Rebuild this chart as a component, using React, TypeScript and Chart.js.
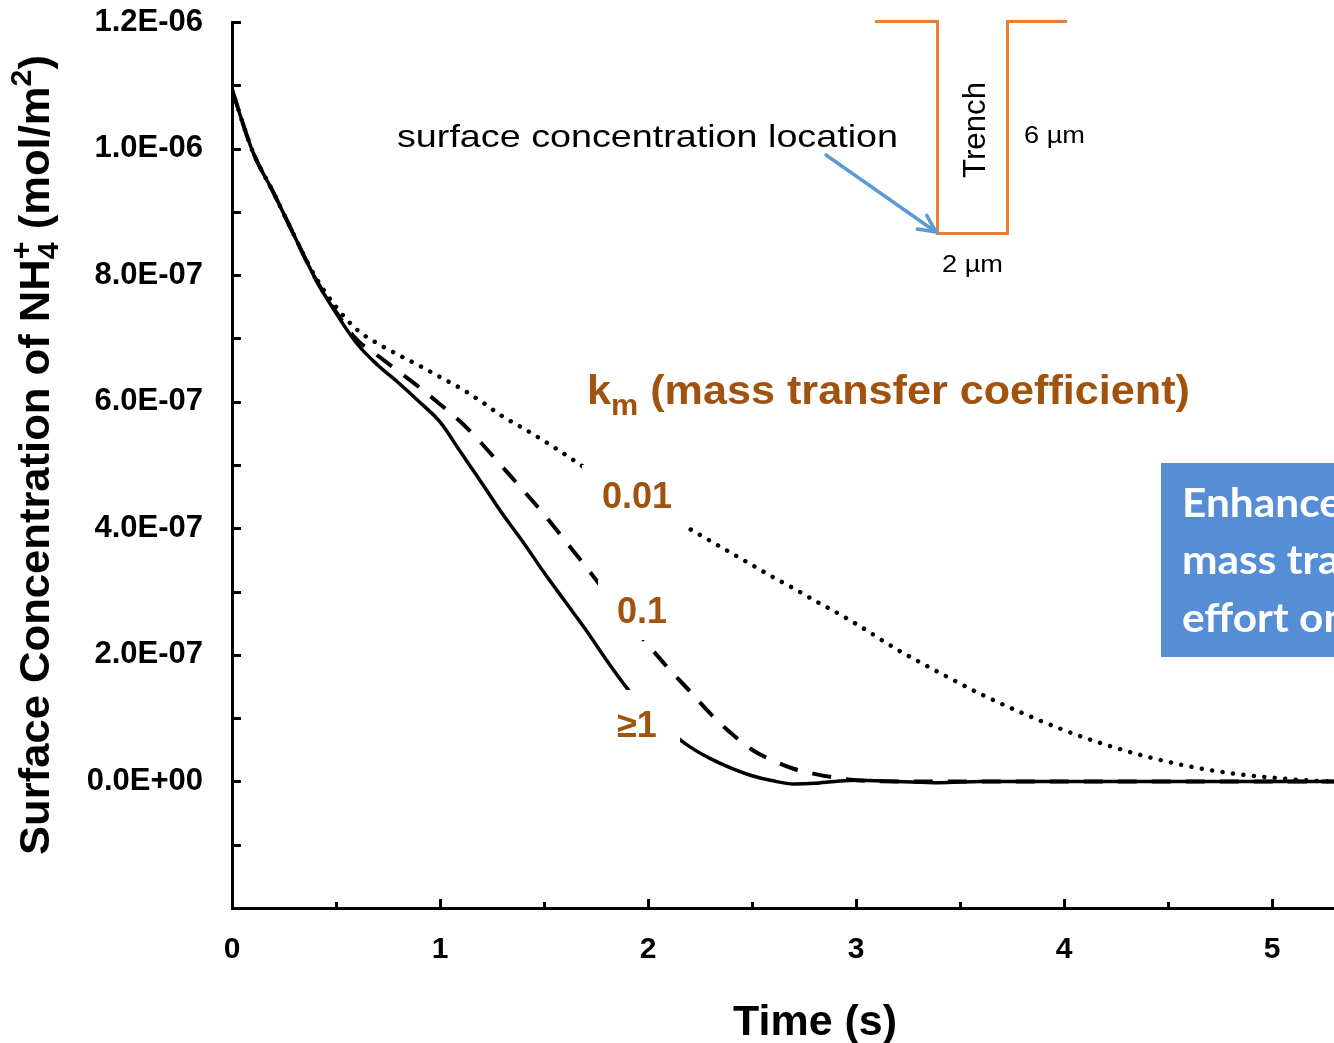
import React, { useEffect, useRef } from 'react';
import { Chart, registerables } from 'chart.js';

Chart.register(...registerables);

// ---------------- data ----------------
// time (s)
const TIME = [
  0, 0.1, 0.2, 0.3, 0.4, 0.5, 0.6, 0.7, 0.8, 0.9,
  1.0, 1.1, 1.2, 1.3, 1.4, 1.5, 1.6, 1.7, 1.8, 1.9,
  2.0, 2.1, 2.2, 2.3, 2.4, 2.5, 2.6, 2.7, 2.8, 2.9,
  3.0, 3.2, 3.4, 3.6, 3.8, 4.0, 4.2, 4.4, 4.6, 4.8,
  5.0, 5.2, 5.3,
];
// surface concentration (mol/m2), km >= 1 (solid)
const KM_GE1 = [
  10.93e-7, 9.95e-7, 9.3e-7, 8.62e-7, 7.95e-7, 7.4e-7, 6.92e-7, 6.58e-7, 6.3e-7, 6.0e-7,
  5.68e-7, 5.2e-7, 4.72e-7, 4.23e-7, 3.78e-7, 3.3e-7, 2.85e-7, 2.4e-7, 1.92e-7, 1.47e-7,
  1.08e-7, 0.8e-7, 0.55e-7, 0.36e-7, 0.21e-7, 0.09e-7, 0.01e-7, -0.04e-7, -0.03e-7, 0.0,
  0.02e-7, 0.0, -0.02e-7, 0, 0, 0, 0, 0, 0, 0,
  0, 0, 0,
];
// km = 0.1 (dashed)
const KM_01 = [
  10.93e-7, 9.95e-7, 9.3e-7, 8.62e-7, 7.95e-7, 7.42e-7, 6.98e-7, 6.73e-7, 6.48e-7, 6.23e-7,
  5.96e-7, 5.68e-7, 5.34e-7, 4.97e-7, 4.6e-7, 4.22e-7, 3.81e-7, 3.4e-7, 2.97e-7, 2.55e-7,
  2.16e-7, 1.78e-7, 1.43e-7, 1.07e-7, 0.76e-7, 0.5e-7, 0.33e-7, 0.2e-7, 0.12e-7, 0.06e-7,
  0.02e-7, 0, 0, 0, 0, 0, 0, 0, 0, 0,
  0, 0, 0,
];
// km = 0.01 (dotted)
const KM_001 = [
  10.93e-7, 9.95e-7, 9.3e-7, 8.62e-7, 7.98e-7, 7.5e-7, 7.14e-7, 6.92e-7, 6.74e-7, 6.57e-7,
  6.39e-7, 6.21e-7, 6.0e-7, 5.77e-7, 5.58e-7, 5.38e-7, 5.17e-7, 4.95e-7, 4.75e-7, 4.55e-7,
  4.36e-7, 4.17e-7, 3.99e-7, 3.8e-7, 3.61e-7, 3.42e-7, 3.23e-7, 3.05e-7, 2.86e-7, 2.68e-7,
  2.49e-7, 2.08e-7, 1.72e-7, 1.38e-7, 1.08e-7, 0.81e-7, 0.58e-7, 0.39e-7, 0.24e-7, 0.13e-7,
  0.06e-7, 0.01e-7, 0.0,
];

const X_TICK_VALUES = [0, 0.5, 1, 1.5, 2, 2.5, 3, 3.5, 4, 4.5, 5];
const X_TICK_LABELS = ['0', '1', '2', '3', '4', '5'];
const Y_TICK_STEPS = [0, 2, 4, 6, 8, 10, 12]; // in units of 1e-7
const Y_TICK_LABELS = ['0.0E+00', '2.0E-07', '4.0E-07', '6.0E-07', '8.0E-07', '1.0E-06', '1.2E-06'];

const KM_TEXTS = ['0.01', '0.1', '\u22651'];

// ---------------- layout / style ----------------
const W = 1334;
const H = 1043;
const X_MIN = 0;
const X_MAX = 5.298;
const Y_MIN = -2e-7;
const Y_MAX = 1.2e-6;
const SANS = '"Liberation Sans", Arial, Helvetica, sans-serif';
const BROWN = '#A0520F';
const ORANGE = '#ED7D31';
const BLUE_ARROW = '#5B9BD5';
const BLUE_BOX = '#558ED5';

type Seg = { t: string; size: number; dy?: number; noAdv?: boolean };

function drawRich(
  ctx: CanvasRenderingContext2D,
  segs: Seg[],
  weight: string,
  family: string,
  color: string,
  x: number,
  y: number,
  align: 'left' | 'center',
  width?: number,
  rotate?: number
) {
  ctx.save();
  ctx.translate(x, y);
  if (rotate) ctx.rotate(rotate);
  const widths = segs.map((s) => {
    ctx.font = `${weight} ${s.size}px ${family}`;
    return ctx.measureText(s.t).width;
  });
  let total = 0;
  segs.forEach((s, i) => {
    if (!s.noAdv) total += widths[i];
  });
  const sx = width ? width / total : 1;
  ctx.scale(sx, 1);
  ctx.fillStyle = color;
  ctx.textAlign = 'left';
  ctx.textBaseline = 'alphabetic';
  let cx = align === 'center' ? -total / 2 : 0;
  segs.forEach((s, i) => {
    ctx.font = `${weight} ${s.size}px ${family}`;
    ctx.fillText(s.t, cx, s.dy || 0);
    if (!s.noAdv) cx += widths[i];
  });
  ctx.restore();
}

const decorPlugin = {
  id: 'decor',
  afterDraw(chart: any) {
    const ctx: CanvasRenderingContext2D = chart.ctx;
    const ca = chart.chartArea;
    const xs = chart.scales.x;
    const ys = chart.scales.y;

    // inward tick marks
    ctx.save();
    ctx.strokeStyle = '#000';
    ctx.lineWidth = 3;
    ys.ticks.forEach((t: any) => {
      const py = Math.round(ys.getPixelForValue(t.value)) + 0.5;
      ctx.beginPath();
      ctx.moveTo(ca.left, py);
      ctx.lineTo(ca.left + 9, py);
      ctx.stroke();
    });
    xs.ticks.forEach((t: any) => {
      if (Math.abs(t.value) < 1e-6) return;
      const px = Math.round(xs.getPixelForValue(t.value)) + 0.5;
      const major = Math.abs(t.value - Math.round(t.value)) < 1e-6;
      ctx.beginPath();
      ctx.moveTo(px, ca.bottom);
      ctx.lineTo(px, ca.bottom - (major ? 9 : 6));
      ctx.stroke();
    });
    ctx.restore();

    // km value labels with white boxes
    const boxes = [
      { cx: 637, base: 508, box: [582, 465, 110, 62] },
      { cx: 642, base: 623, box: [598, 580, 88, 60] },
      { cx: 637, base: 737, box: [594, 690, 86, 66] },
    ];
    boxes.forEach((b, i) => {
      ctx.fillStyle = '#fff';
      ctx.fillRect(b.box[0], b.box[1], b.box[2], b.box[3]);
      drawRich(ctx, [{ t: KM_TEXTS[i], size: 36 }], 'bold', SANS, BROWN, b.cx, b.base, 'center');
    });

    // km title
    drawRich(
      ctx,
      [
        { t: 'k', size: 41 },
        { t: 'm', size: 29, dy: 11 },
        { t: ' (mass transfer coefficient)', size: 41 },
      ],
      'bold',
      SANS,
      BROWN,
      587,
      404,
      'left',
      603
    );

    // trench inset
    ctx.save();
    ctx.strokeStyle = ORANGE;
    ctx.lineWidth = 3;
    ctx.lineJoin = 'miter';
    ctx.beginPath();
    ctx.moveTo(875, 21.5);
    ctx.lineTo(937.5, 21.5);
    ctx.lineTo(937.5, 233.5);
    ctx.lineTo(1007.5, 233.5);
    ctx.lineTo(1007.5, 21.5);
    ctx.lineTo(1067, 21.5);
    ctx.stroke();
    ctx.restore();

    // arrow
    ctx.save();
    ctx.strokeStyle = BLUE_ARROW;
    ctx.lineWidth = 3.5;
    ctx.lineCap = 'round';
    const ax0 = 826, ay0 = 155, ax1 = 936, ay1 = 232;
    ctx.beginPath();
    ctx.moveTo(ax0, ay0);
    ctx.lineTo(ax1, ay1);
    const ang = Math.atan2(ay1 - ay0, ax1 - ax0);
    const hl = 19;
    ctx.moveTo(ax1 - hl * Math.cos(ang - 0.45), ay1 - hl * Math.sin(ang - 0.45));
    ctx.lineTo(ax1, ay1);
    ctx.lineTo(ax1 - hl * Math.cos(ang + 0.45), ay1 - hl * Math.sin(ang + 0.45));
    ctx.stroke();
    ctx.restore();

    drawRich(ctx, [{ t: 'surface concentration location', size: 32 }], 'normal', SANS, '#000', 397, 147, 'left', 501);
    drawRich(ctx, [{ t: 'Trench', size: 31 }], 'normal', SANS, '#000', 985, 130, 'center', 96, -Math.PI / 2);
    drawRich(ctx, [{ t: '6 \u00b5m', size: 24 }], 'normal', SANS, '#000', 1024, 143, 'left', 61);
    drawRich(ctx, [{ t: '2 \u00b5m', size: 24 }], 'normal', SANS, '#000', 942, 272, 'left', 61);

    // blue note box (cut by the right edge)
    ctx.save();
    ctx.fillStyle = BLUE_BOX;
    ctx.fillRect(1161, 463, 260, 194);
    ctx.font = 'bold 40px Lato, "Open Sans", sans-serif';
    const ew = ctx.measureText('Enhance').width;
    const bsx = 160 / ew;
    ctx.restore();
    const noteLines = ['Enhanced', 'mass transfer', 'effort on'];
    const noteBase = [517, 574, 632];
    noteLines.forEach((l, i) => {
      ctx.save();
      ctx.translate(1182, noteBase[i]);
      ctx.scale(bsx, 1);
      ctx.font = 'bold 40px Lato, "Open Sans", sans-serif';
      ctx.fillStyle = '#fff';
      ctx.textAlign = 'left';
      ctx.textBaseline = 'alphabetic';
      ctx.fillText(l, 0, 0);
      ctx.restore();
    });

    // axis titles
    drawRich(
      ctx,
      [
        { t: 'Surface Concentration of NH', size: 43 },
        { t: '4', size: 30, dy: 9, noAdv: true },
        { t: '+', size: 30, dy: -18 },
        { t: ' (mol/m', size: 43 },
        { t: '2', size: 30, dy: -18 },
        { t: ')', size: 43 },
      ],
      'bold',
      SANS,
      '#000',
      49,
      455,
      'center',
      800,
      -Math.PI / 2
    );
    drawRich(ctx, [{ t: 'Time (s)', size: 43 }], 'bold', SANS, '#000', 815, 1035, 'center', 164);
  },
};

export default function App() {
  const ref = useRef<HTMLCanvasElement>(null);

  useEffect(() => {
    const canvas = ref.current;
    if (!canvas) return;
    const mk = (arr: number[]) => TIME.map((t, i) => ({ x: t, y: arr[i] }));
    const chart = new Chart(canvas, {
      type: 'line',
      data: {
        datasets: [
          {
            label: 'km \u2265 1',
            data: mk(KM_GE1),
            borderColor: '#000',
            borderWidth: 3.5,
            pointRadius: 0,
            fill: false,
            cubicInterpolationMode: 'monotone',
          },
          {
            label: 'km = 0.1',
            data: mk(KM_01),
            borderColor: '#000',
            borderWidth: 4,
            borderDash: [19, 15],
            pointRadius: 0,
            fill: false,
            cubicInterpolationMode: 'monotone',
          },
          {
            label: 'km = 0.01',
            data: mk(KM_001),
            borderColor: '#000',
            borderWidth: 4.5,
            borderDash: [0.01, 10.5],
            borderCapStyle: 'round',
            pointRadius: 0,
            fill: false,
            cubicInterpolationMode: 'monotone',
          },
        ],
      },
      options: {
        responsive: false,
        animation: false,
        devicePixelRatio: 1,
        layout: { padding: { top: 22, left: 0, right: 0, bottom: 0 } },
        plugins: {
          legend: { display: false },
          tooltip: { enabled: false },
        },
        scales: {
          x: {
            type: 'linear',
            min: X_MIN,
            max: X_MAX,
            grid: { display: false, drawTicks: false },
            border: { display: true, color: '#000', width: 3 },
            afterBuildTicks: (scale: any) => {
              scale.ticks = X_TICK_VALUES.map((v) => ({ value: v }));
            },
            afterFit: (scale: any) => {
              scale.height = 135;
              scale.paddingLeft = 0;
              scale.paddingRight = 0;
            },
            ticks: {
              autoSkip: false,
              maxRotation: 0,
              padding: 24,
              color: '#000',
              font: { family: SANS, size: 30, weight: 'bold' },
              callback: (v: any) => {
                const n = Number(v);
                if (Math.abs(n - Math.round(n)) > 1e-6) return '';
                return X_TICK_LABELS[Math.round(n)] ?? '';
              },
            },
          },
          y: {
            type: 'linear',
            min: Y_MIN,
            max: Y_MAX,
            grid: { display: false, drawTicks: false },
            border: { display: true, color: '#000', width: 3 },
            afterFit: (scale: any) => {
              scale.width = 232;
              scale.paddingTop = 0;
              scale.paddingBottom = 0;
            },
            ticks: {
              stepSize: 1e-7,
              maxTicksLimit: 100,
              autoSkip: false,
              padding: 29,
              color: '#000',
              font: { family: SANS, size: 31, weight: 'bold' },
              callback: (v: any) => {
                const k = Math.round(Number(v) / 1e-7);
                const idx = Y_TICK_STEPS.indexOf(k);
                return idx >= 0 ? Y_TICK_LABELS[idx] : '';
              },
            },
          },
        },
      },
      plugins: [decorPlugin],
    } as any);
    return () => chart.destroy();
  }, []);

  return (
    <div
      style={{
        position: 'absolute',
        left: 0,
        top: 0,
        width: W,
        height: H,
        overflow: 'hidden',
        background: '#fff',
      }}
    >
      <canvas ref={ref} width={W} height={H} style={{ display: 'block', width: W, height: H }} />
    </div>
  );
}
